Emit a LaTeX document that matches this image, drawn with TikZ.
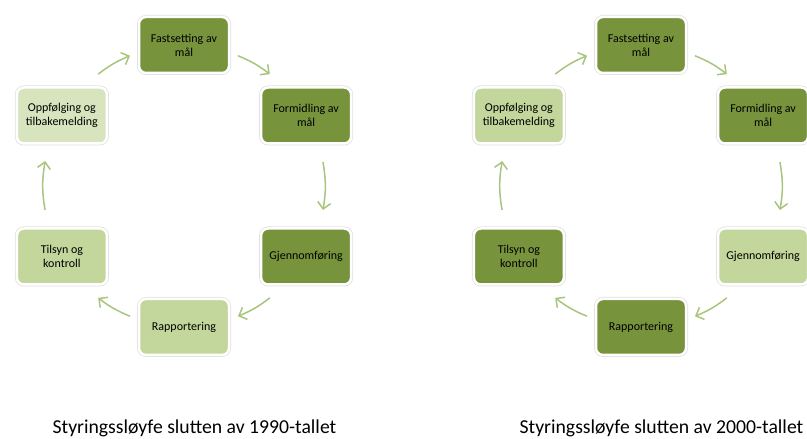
\documentclass[tikz,border=0pt]{standalone}
\usepackage{fontspec}
\setmainfont{Carlito}
\usepackage{tikz}
\usetikzlibrary{arrows.meta}
\definecolor{loopdark}{HTML}{77933C}
\definecolor{looplight}{HTML}{C3D69B}
\definecolor{looppale}{HTML}{D7E4BD}
\definecolor{looparrow}{HTML}{A9C47F}

\tikzset{
  stepbox/.style={rounded corners=7pt, minimum width=90pt, minimum height=56pt,
    align=center, font=\fontsize{12}{14}\selectfont,
    draw=white, line width=2.5pt, preaction={draw=black!12, line width=4pt}},
  dark/.style={stepbox, fill=loopdark},
  light/.style={stepbox, fill=looplight},
  pale/.style={stepbox, fill=looppale},
  cyc/.style={draw=looparrow, line width=1.5pt,
    -{Straight Barb[length=6.5pt, width=13pt]}},
  caption/.style={anchor=base, font=\fontsize{19.7}{22}\selectfont}
}

\begin{document}
\begin{tikzpicture}[x=1pt, y=1pt]
  \useasboundingbox (0,0) rectangle (807,439);
  \coordinate (lc) at (184,253);
  \coordinate (rc) at (641,253);

  % 1990
  \node[dark]  (lfast) at ([shift={(90:141)}]lc)   {Fastsetting av\\mål};
  \node[dark]  (lform) at ([shift={(30:141)}]lc)   {Formidling av\\mål};
  \node[dark]  (lgjen) at ([shift={(-30:141)}]lc)  {Gjennomføring};
  \node[light] (lrapp) at ([shift={(-90:141)}]lc)  {Rapportering};
  \node[light] (ltils) at ([shift={(-150:141)}]lc) {Tilsyn og\\kontroll};
  \node[pale]  (lopp)  at ([shift={(150:141)}]lc)  {Oppfølging og\\tilbakemelding};

  % 2000
  \node[dark]  (rfast) at ([shift={(90:141)}]rc)   {Fastsetting av\\mål};
  \node[dark]  (rform) at ([shift={(30:141)}]rc)   {Formidling av\\mål};
  \node[light] (rgjen) at ([shift={(-30:141)}]rc)  {Gjennomføring};
  \node[dark]  (rrapp) at ([shift={(-90:141)}]rc)  {Rapportering};
  \node[dark]  (rtils) at ([shift={(-150:141)}]rc) {Tilsyn og\\kontroll};
  \node[light] (ropp)  at ([shift={(150:141)}]rc)  {Oppfølging og\\tilbakemelding};

  % arrow ends on the loop
  \foreach \c in {l,r}{
    \foreach \n/\i/\o in {fast/112.5/67.5, form/52.5/9.8, gjen/-9.8/-52.5,
                          rapp/-67.5/-112.5, tils/-127.5/-170.2, opp/169.8/127.5}{
      \coordinate (\c\n-in)  at ([shift={(\i:141)}]\c c);
      \coordinate (\c\n-out) at ([shift={(\o:141)}]\c c);
    }
    \foreach \s/\t/\b in {opp/fast/7.5, fast/form/7.5, form/gjen/9.8,
                          gjen/rapp/7.5, rapp/tils/7.5, tils/opp/9.8}
      \draw[cyc] (\c\s-out) to[bend left=\b] (\c\t-in);
  }

  \node[caption] (lcap) at (194.5,5) {Styringssløyfe slutten av 1990-tallet};
  \node[caption] (rcap) at (661.5,5) {Styringssløyfe slutten av 2000-tallet};
\end{tikzpicture}
\end{document}
